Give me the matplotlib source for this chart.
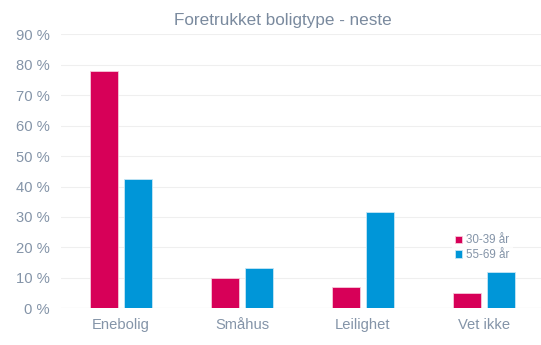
import matplotlib
matplotlib.use("Agg")
import matplotlib.pyplot as plt
import numpy as np

categories = ["Enebolig", "Småhus", "Leilighet", "Vet ikke"]
series_names = ["30-39 år", "55-69 år"]
values_30_39 = [78, 10, 6.9, 4.9]
values_55_69 = [42.6, 13.3, 31.6, 12]
y_ticks = [0, 10, 20, 30, 40, 50, 60, 70, 80, 90]

colors = ["#D70058", "#0096D8"]
text_color = "#8494A8"

plt.rcParams["font.family"] = ["Liberation Sans", "DejaVu Sans"]

W, H = 541, 345
fig = plt.figure(figsize=(W / 100, H / 100), dpi=100)
# plot area runs slightly past the right edge of the canvas
ax = fig.add_axes([60.5 / W, (H - 308.3) / H, (544.5 - 60.5) / W, (308.3 - 34.3) / H])

x = np.arange(len(categories))
bw = 0.226
off = 0.141
ax.bar(x - off, values_30_39, bw, color=colors[0], edgecolor="#F6C9DA",
       linewidth=0.6, label=series_names[0], zorder=3)
ax.bar(x + off, values_55_69, bw, color=colors[1], edgecolor="#C6E6F5",
       linewidth=0.6, label=series_names[1], zorder=3)

ax.set_xlim(-0.5, 3.5)
ax.set_ylim(0, 90)
ax.set_yticks(y_ticks)
ax.set_yticklabels([f"{v} %" for v in y_ticks])
ax.set_xticks(x)
ax.set_xticklabels(categories)
ax.grid(axis="y", color="#EFEFEF", linewidth=0.8, zorder=0)
ax.axhline(0, color="#E8E8E8", linewidth=0.8, zorder=1)
for s in ax.spines.values():
    s.set_visible(False)
ax.tick_params(axis="both", length=0, labelsize=10.6, colors=text_color)
ax.tick_params(axis="y", pad=8)
ax.tick_params(axis="x", pad=7)

fig.text(282.5 / W, 1 - 21 / H, "Foretrukket boligtype - neste",
         ha="center", va="center", fontsize=12.3, color="#7A8A9E")

leg = ax.legend(loc="upper left", frameon=True, fontsize=8.4,
                handlelength=0.6, handleheight=0.6, handletextpad=0.3,
                labelspacing=0.25, borderpad=0.3, labelcolor=text_color)
leg.get_frame().set_facecolor("white")
leg.get_frame().set_edgecolor("none")
leg.set_bbox_to_anchor((446 / W, 1 - 225 / H), transform=fig.transFigure)
leg.set_zorder(5)

fig.savefig("out.png", dpi=100)
